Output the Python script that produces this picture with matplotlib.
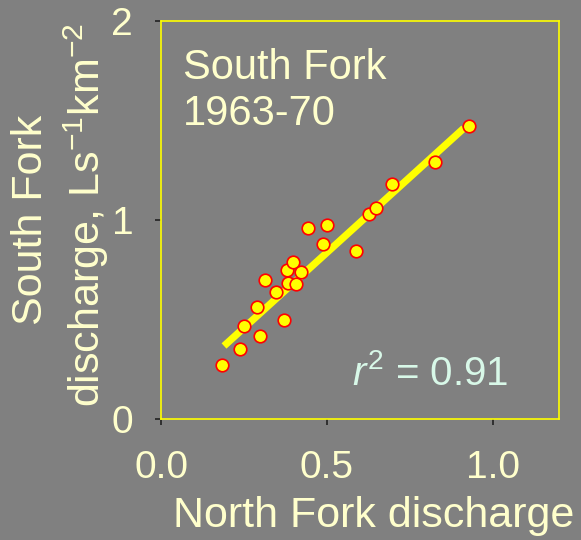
import matplotlib
matplotlib.use("Agg")
import matplotlib.pyplot as plt

plt.rcParams['font.family'] = ['Liberation Sans', 'DejaVu Sans']
plt.rcParams['mathtext.fontset'] = 'custom'
plt.rcParams['mathtext.rm'] = 'Liberation Sans'
plt.rcParams['mathtext.it'] = 'Liberation Sans:italic'

north_fork = [0.185, 0.237, 0.249, 0.299, 0.289, 0.315, 0.346, 0.371, 0.384, 0.407, 0.380,
              0.398, 0.423, 0.443, 0.488, 0.501, 0.588, 0.628, 0.648, 0.695, 0.826, 0.928]
south_fork = [0.270, 0.350, 0.469, 0.419, 0.564, 0.697, 0.640, 0.497, 0.683, 0.680, 0.750,
              0.791, 0.739, 0.958, 0.878, 0.973, 0.844, 1.029, 1.060, 1.179, 1.291, 1.474]
fit_x = [0.19, 0.913]
fit_y = [0.367, 1.461]
x_ticks = [0.0, 0.5, 1.0]
x_ticklabels = ["0.0", "0.5", "1.0"]
y_ticks = [0, 1, 2]
y_ticklabels = ["0", "1", "2"]

W, H = 581, 540
bg = '#808080'
txt = '#FFFFCC'
FS_TICK = 28
FS_LABEL = 31
FS_NOTE = 30
fig = plt.figure(figsize=(W / 100, H / 100), dpi=100, facecolor=bg)
ax = fig.add_axes([161 / W, 1 - 419 / H, 398 / W, 398 / H])
ax.set_facecolor(bg)
ax.set_xlim(0, 1.2)
ax.set_ylim(0, 2)

ax.plot(fit_x, fit_y, color='#FFFF00', lw=5.2, solid_capstyle='butt', zorder=2)
ax.scatter(north_fork, south_fork, s=82, facecolor='#FFFF00', edgecolor='#FF0000',
           linewidth=1.2, zorder=3)

for s in ax.spines.values():
    s.set_color('#FFFF00')
    s.set_linewidth(1.2)

ax.set_xticks(x_ticks)
ax.set_xticklabels(x_ticklabels)
ax.set_yticks(y_ticks)
ax.set_yticklabels(y_ticklabels)
ax.tick_params(axis='both', direction='out', length=4, width=1.2, color='#222222',
               labelsize=FS_TICK, labelcolor=txt)
ax.tick_params(axis='x', pad=18)
ax.tick_params(axis='y', pad=16)


def ft(px, py, s, **kw):
    return fig.text(px / W, 1 - py / H, s, **kw)


# x label
ft(374, 527, 'North Fork discharge', fontsize=FS_LABEL, color=txt, ha='center',
   va='baseline')
# y label (two lines, rotated)
ft(42, 220, 'South Fork', fontsize=FS_LABEL, color=txt, ha='center', va='baseline',
   rotation=90, rotation_mode='anchor')
ft(100, 215, 'discharge, Ls$^{-1}$km$^{-2}$', fontsize=FS_LABEL, color=txt, ha='center',
   va='baseline', rotation=90, rotation_mode='anchor')

# in-plot annotations
ft(183, 79, 'South Fork', fontsize=FS_NOTE, color=txt, ha='left', va='baseline')
ft(183, 125, '1963-70', fontsize=FS_NOTE, color=txt, ha='left', va='baseline')
ft(508, 385, '$r^2$ = 0.91', fontsize=29, color='#D8F8E8', ha='right', va='baseline')

fig.savefig('out.png', dpi=100, facecolor=bg)
